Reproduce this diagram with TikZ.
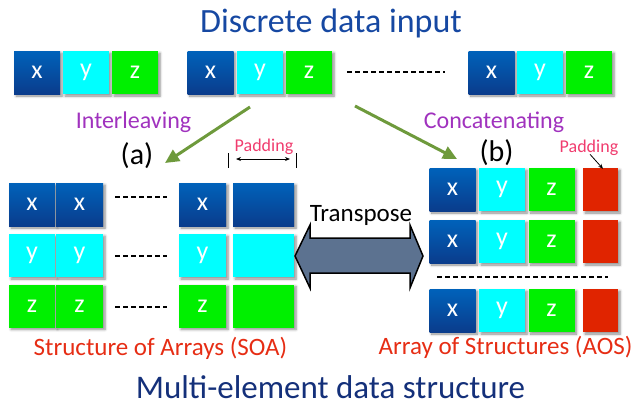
\documentclass[tikz,border=0pt]{standalone}
\usepackage{fontspec}
\setmainfont{Carlito}
\usetikzlibrary{arrows.meta,shadows.blur}
\definecolor{titleblue}{RGB}{22,72,162}
\definecolor{navy}{RGB}{20,48,122}
\definecolor{purp}{RGB}{160,50,190}
\definecolor{pinklab}{RGB}{240,60,110}
\definecolor{redlab}{RGB}{230,45,20}
\definecolor{bxT}{RGB}{0,98,186}
\definecolor{bxB}{RGB}{10,60,140}
\definecolor{cyfill}{RGB}{0,255,255}
\definecolor{grfill}{RGB}{0,240,0}
\definecolor{rdfill}{RGB}{224,36,0}
\definecolor{arrg}{RGB}{110,154,60}
\definecolor{tfill}{RGB}{92,114,144}
\tikzset{
  cell/.style={minimum width=46pt, minimum height=43pt, inner sep=0pt, text=white,
    font=\fontsize{26}{26}\selectfont,
    blur shadow={shadow xshift=2pt, shadow yshift=-2pt, shadow blur steps=6, shadow opacity=45, shadow blur radius=2.5pt}},
  bx/.style={cell, top color=bxT, bottom color=bxB},
  cyx/.style={cell, fill=cyfill},
  grx/.style={cell, fill=grfill},
  rdx/.style={cell, fill=rdfill, minimum width=35pt},
  dotline/.style={line width=2pt, dash pattern=on 5pt off 3pt},
  grarrow/.style={draw=arrg, line width=3pt, -{Triangle[length=14pt,width=13pt]}},
  thinarrow/.style={line width=0.8pt},
  lbl/.style={anchor=base, inner sep=0pt},
}
\begin{document}
\begin{tikzpicture}[x=1pt,y=-1pt]
\useasboundingbox (0,0) rectangle (641,410);
% title
\node[lbl, text=titleblue, font=\fontsize{34}{34}\selectfont] (title) at (331,32) {Discrete data input};
% top row
\node[bx]  (t1x) at (37,72.5) {x};
\node[cyx] (t1y) at (86,72.5) {y};
\node[grx] (t1z) at (135,72.5) {z};
\node[bx]  (t2x) at (210.5,72.5) {x};
\node[cyx] (t2y) at (260,72.5) {y};
\node[grx] (t2z) at (309,72.5) {z};
\node[bx]  (t3x) at (491.5,72.5) {x};
\node[cyx] (t3y) at (540,72.5) {y};
\node[grx] (t3z) at (589,72.5) {z};
\draw[dotline] ([xshift=15pt,yshift=0.5pt]t2z.east) -- ([xshift=-23pt,yshift=0.5pt]t3x.west);
% labels
\node[lbl, text=purp, font=\fontsize{24}{24}\selectfont] (inter) at (133.5,128) {Interleaving};
\node[lbl, text=purp, font=\fontsize{24}{24}\selectfont] (conc) at (494,128) {Concatenating};
\node[lbl, font=\fontsize{30}{30}\selectfont] (la) at (137,164) {(a)};
\node[lbl, font=\fontsize{30}{30}\selectfont] (lb) at (496.5,161) {(b)};
% green arrows
\coordinate (g1s) at (250,107);
\coordinate (g1e) at (165,163);
\coordinate (g2s) at (355,106);
\coordinate (g2e) at (457,159);
\draw[grarrow] (g1s) -- (g1e);
\draw[grarrow] (g2s) -- (g2e);
% SOA
\node[bx]  (s1a) at (32,204.5) {x};
\node[bx, minimum width=47pt]  (s1b) at (79.5,204.5) {x};
\node[bx, minimum width=47pt]  (s1c) at (202.5,204.5) {x};
\node[bx, minimum width=61pt]  (s1d) at (263.5,204.5) {};
\node[cyx] (s2a) at (32,255.5) {y};
\node[cyx, minimum width=47pt] (s2b) at (79.5,255.5) {y};
\node[cyx, minimum width=47pt] (s2c) at (202.5,255.5) {y};
\node[cyx, minimum width=61pt] (s2d) at (263.5,255.5) {};
\node[grx] (s3a) at (32,306) {z};
\node[grx, minimum width=47pt] (s3b) at (79.5,306) {z};
\node[grx, minimum width=47pt] (s3c) at (202.5,306) {z};
\node[grx, minimum width=61pt] (s3d) at (263.5,306) {};
\draw[dotline] ([xshift=12pt,yshift=7.5pt]s1b.east) -- ([xshift=-12pt,yshift=7.5pt]s1c.west);
\draw[dotline] ([xshift=12pt,yshift=-0.5pt]s2b.east) -- ([xshift=-12pt,yshift=-0.5pt]s2c.west);
\draw[dotline] ([xshift=12pt,yshift=-1pt]s3b.east) -- ([xshift=-12pt,yshift=-1pt]s3c.west);
% padding bracket (a)
\node[lbl, text=pinklab, font=\fontsize{18}{18}\selectfont] (pada) at (264,151) {Padding};
\coordinate (pbl) at (228,153);
\coordinate (pbr) at (296,153);
\draw[thinarrow] (pbl) -- ++(0,15);
\draw[thinarrow] (pbr) -- ++(0,15);
\draw[thinarrow, {Stealth[length=5pt,width=4pt]}-{Stealth[length=5pt,width=4pt]}] ([shift={(8,6)}]pbl) -- ([shift={(-6,6)}]pbr);
% AOS
\node[bx]  (a1x) at (452.5,189.5) {x};
\node[cyx] (a1y) at (502,189.5) {y};
\node[grx] (a1z) at (551.5,189.5) {z};
\node[rdx] (a1r) at (600.5,189.5) {};
\node[bx]  (a2x) at (452.5,241.5) {x};
\node[cyx] (a2y) at (502,241.5) {y};
\node[grx] (a2z) at (551.5,241.5) {z};
\node[rdx] (a2r) at (600.5,241.5) {};
\node[bx]  (a3x) at (452.5,310.5) {x};
\node[cyx] (a3y) at (502,310.5) {y};
\node[grx] (a3z) at (551.5,310.5) {z};
\node[rdx] (a3r) at (600.5,310.5) {};
\coordinate (adl) at (437,277);
\coordinate (adr) at (608,277);
\draw[dotline] (adl) -- (adr);
\node[lbl, text=pinklab, font=\fontsize{18}{18}\selectfont] (padb) at (589,152) {Padding};
\draw[thinarrow, -{Stealth[length=5pt,width=4pt]}] ([xshift=1pt,yshift=1pt]padb.south) -- ([xshift=2.5pt,yshift=-1pt]a1r.north);
% transpose arrow
\draw[line width=1.5pt, fill=tfill, line join=miter]
  (295,256) -- (310,225) -- (310,238) -- (410,238) -- (410,225) -- (423,256)
  -- (410,288) -- (410,273) -- (310,273) -- (310,288) -- cycle;
\node[lbl, font=\fontsize{25}{25}\selectfont] (tr) at (361,221) {Transpose};
% bottom labels
\node[lbl, text=redlab, font=\fontsize{25}{25}\selectfont] (soa) at (160.5,355) {Structure of Arrays (SOA)};
\node[lbl, text=redlab, font=\fontsize{25}{25}\selectfont] (aos) at (505.5,354) {Array of Structures (AOS)};
\node[lbl, text=navy, font=\fontsize{33}{33}\selectfont] (multi) at (330.5,398) {Multi-element data structure};
\end{tikzpicture}
\end{document}
